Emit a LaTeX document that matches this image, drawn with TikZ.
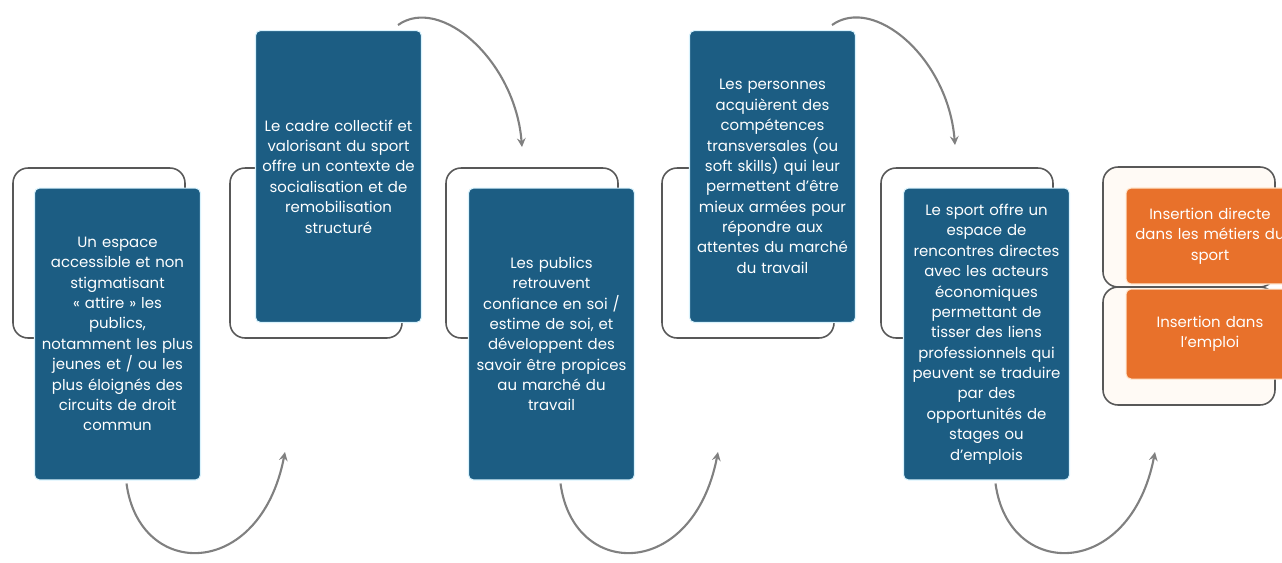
\documentclass[tikz,border=0pt]{standalone}
\usepackage{fontspec}
\setmainfont{Poppins}
\usepackage{xcolor}
\usepackage{tikz}
\usetikzlibrary{arrows,positioning}

\definecolor{boxblue}{RGB}{28,93,131}
\definecolor{boxorange}{RGB}{232,113,43}
\definecolor{framegray}{RGB}{88,88,88}
\definecolor{cream}{RGB}{255,250,245}

\tikzset{
  backframe/.style={draw=framegray,line width=0.9pt,fill=white,rounded corners=0.3cm,
    minimum width=3.44cm,minimum height=3.4cm,inner sep=0pt},
  bluebox/.style={draw=cyan!15!white,line width=0.6pt,fill=boxblue,rounded corners=0.1cm,
    minimum width=3.32cm,minimum height=5.84cm,inner sep=0pt,text width=3.32cm,align=center,
    text=white,font=\fontsize{8.5}{11.6}\selectfont},
  orangebox/.style={draw=orange!20!white,line width=0.6pt,fill=boxorange,rounded corners=0.1cm,
    minimum width=3.36cm,inner sep=0pt,text width=3.36cm,align=center,
    text=white,font=\fontsize{8.5}{11.6}\selectfont},
  link/.style={draw=black!50,line width=1.2pt,->,>=stealth}
}

\begin{document}
\begin{tikzpicture}[x=0.02cm,y=-0.02cm]
\path[use as bounding box,clip] (0,0) rectangle (1282,562);

% Back frames
\foreach \n/\x in {1/99, 2/316, 3/532, 4/748, 5/967}
  \node[backframe] (f\n) at (\x,253) {};
\node[backframe,fill=cream,minimum height=2.4cm] (g1) at (1189,227) {};
\node[backframe,fill=cream,minimum height=2.36cm] (g2) at (1189,346) {};

% Steps
\foreach \n/\x/\y/\txt in {
  1/117.5/334/{Un espace\\accessible et non\\stigmatisant\\« attire » les\\publics,\\notamment les plus\\jeunes et / ou les\\plus éloignés des\\circuits de droit\\commun},
  2/338.5/176.5/{Le cadre collectif et\\valorisant du sport\\offre un contexte de\\socialisation  et de\\remobilisation\\structuré},
  3/551.5/334/{Les publics\\retrouvent\\confiance en soi /\\estime de soi, et\\développent des\\savoir être propices\\au marché du\\travail},
  4/772.5/176.5/{Les personnes\\acquièrent des\\compétences\\transversales (ou\\soft skills) qui leur\\permettent d'être\\mieux armées pour\\répondre aux\\attentes du marché\\du travail},
  5/986.5/334/{Le sport offre un\\espace de\\rencontres directes\\avec les acteurs\\économiques\\permettant de\\tisser des liens\\professionnels qui\\peuvent se traduire\\par des\\opportunités de\\stages ou\\d'emplois}
} \node[bluebox] (b\n) at (\x,\y) {\txt};

% Outcomes
\node[orangebox,minimum height=1.92cm] (o1) at (1210,236) {Insertion directe\\dans les métiers du\\sport};
\node[orangebox,minimum height=1.8cm,below=0.08cm of o1] (o2) {Insertion dans\\l'emploi};

% Arrows below
\coordinate (t1) at (285,452);
\coordinate (t3) at (718,452);
\coordinate (t5) at (1155,452);
\foreach \n in {1,3,5}
  \draw[link] ([xshift=0.18cm,yshift=-0.06cm]b\n.south) .. controls +(13,97) and +(-25,128) .. (t\n);

% Arrows above
\coordinate (t2) at (522,147);
\coordinate (t4) at (955,145);
\foreach \n in {2,4}
  \draw[link] ([xshift=-0.48cm,yshift=0.1cm]b\n.north east) .. controls +(42,-30) and +(-7,-87) .. (t\n);
\end{tikzpicture}
\end{document}
